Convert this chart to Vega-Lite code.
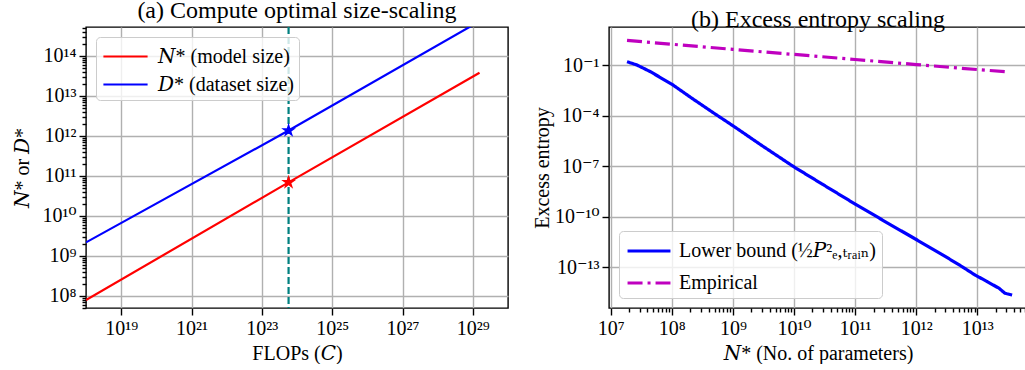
{
  "$schema": "https://vega.github.io/schema/vega-lite/v6.json",
  "background": "white",
  "padding": {"left": 11, "top": -3, "right": 0, "bottom": 0},
  "spacing": 22,
  "resolve": {
    "scale": {"color": "independent", "fill": "independent", "strokeDash": "independent"},
    "legend": {"color": "independent", "strokeDash": "independent", "fill": "independent"}
  },
  "datasets": {
    "sizes": [
      {"C": 1e18, "value": 7.8e7, "series": "𝑁* (model size)"},
      {"C": 5.76e23, "value": 6.85e10, "series": "𝑁* (model size)"},
      {"C": 1.55e29, "value": 3.8e13, "series": "𝑁* (model size)"},
      {"C": 1e18, "value": 2.16e9, "series": "𝐷* (dataset size)"},
      {"C": 5.76e23, "value": 1.36e12, "series": "𝐷* (dataset size)"},
      {"C": 1.55e29, "value": 7.4e14, "series": "𝐷* (dataset size)"}
    ],
    "stars": [
      {"C": 5.76e23, "value": 6.85e10, "series": "𝑁* (model size)"},
      {"C": 5.76e23, "value": 1.36e12, "series": "𝐷* (dataset size)"}
    ],
    "chinchilla": [{"C": 5.76e23}],
    "entropy": [
      {"N": 1.85e7, "value": 0.1637, "series": "Lower bound (½𝑃²ₑ,ₜᵣₐᵢₙ)"},
      {"N": 2.69e7, "value": 0.1042, "series": "Lower bound (½𝑃²ₑ,ₜᵣₐᵢₙ)"},
      {"N": 4.40e7, "value": 0.0429, "series": "Lower bound (½𝑃²ₑ,ₜᵣₐᵢₙ)"},
      {"N": 6.41e7, "value": 0.01936, "series": "Lower bound (½𝑃²ₑ,ₜᵣₐᵢₙ)"},
      {"N": 1.007e8, "value": 0.00743, "series": "Lower bound (½𝑃²ₑ,ₜᵣₐᵢₙ)"},
      {"N": 2.14e8, "value": 1.094e-3, "series": "Lower bound (½𝑃²ₑ,ₜᵣₐᵢₙ)"},
      {"N": 4.85e8, "value": 1.462e-4, "series": "Lower bound (½𝑃²ₑ,ₜᵣₐᵢₙ)"},
      {"N": 1.005e9, "value": 2.54e-5, "series": "Lower bound (½𝑃²ₑ,ₜᵣₐᵢₙ)"},
      {"N": 2.99e9, "value": 1.69e-6, "series": "Lower bound (½𝑃²ₑ,ₜᵣₐᵢₙ)"},
      {"N": 9.89e9, "value": 9.42e-8, "series": "Lower bound (½𝑃²ₑ,ₜᵣₐᵢₙ)"},
      {"N": 2.88e10, "value": 8.83e-9, "series": "Lower bound (½𝑃²ₑ,ₜᵣₐᵢₙ)"},
      {"N": 9.98e10, "value": 5.73e-10, "series": "Lower bound (½𝑃²ₑ,ₜᵣₐᵢₙ)"},
      {"N": 3.09e11, "value": 5.22e-11, "series": "Lower bound (½𝑃²ₑ,ₜᵣₐᵢₙ)"},
      {"N": 9.57e11, "value": 4.90e-12, "series": "Lower bound (½𝑃²ₑ,ₜᵣₐᵢₙ)"},
      {"N": 2.65e12, "value": 5.71e-13, "series": "Lower bound (½𝑃²ₑ,ₜᵣₐᵢₙ)"},
      {"N": 5.64e12, "value": 1.08e-13, "series": "Lower bound (½𝑃²ₑ,ₜᵣₐᵢₙ)"},
      {"N": 9.18e12, "value": 3.47e-14, "series": "Lower bound (½𝑃²ₑ,ₜᵣₐᵢₙ)"},
      {"N": 1.44e13, "value": 1.43e-14, "series": "Lower bound (½𝑃²ₑ,ₜᵣₐᵢₙ)"},
      {"N": 2.27e13, "value": 5.62e-15, "series": "Lower bound (½𝑃²ₑ,ₜᵣₐᵢₙ)"},
      {"N": 2.84e13, "value": 2.84e-15, "series": "Lower bound (½𝑃²ₑ,ₜᵣₐᵢₙ)"},
      {"N": 3.71e13, "value": 2.25e-15, "series": "Lower bound (½𝑃²ₑ,ₜᵣₐᵢₙ)"},
      {"N": 1.85e7, "value": 3.01, "series": "Empirical"},
      {"N": 1.0e8, "value": 1.79, "series": "Empirical"},
      {"N": 1.0e9, "value": 0.89, "series": "Empirical"},
      {"N": 1.0e10, "value": 0.443, "series": "Empirical"},
      {"N": 1.0e11, "value": 0.222, "series": "Empirical"},
      {"N": 1.0e12, "value": 0.111, "series": "Empirical"},
      {"N": 1.0e13, "value": 0.056, "series": "Empirical"},
      {"N": 3.0e13, "value": 0.041, "series": "Empirical"}
    ]
  },
  "config": {
    "font": "Liberation Serif, DejaVu Serif",
    "view": {"stroke": "black", "strokeWidth": 1.4},
    "axis": {
      "domain": false,
      "grid": true,
      "gridColor": "#b0b0b0",
      "gridWidth": 1.4,
      "tickColor": "black",
      "tickWidth": 1.4,
      "labelFont": "Liberation Serif, DejaVu Serif",
      "labelFontSize": 20,
      "labelColor": "black",
      "titleFont": "Liberation Serif, DejaVu Serif",
      "titleFontSize": 20,
      "titleFontWeight": "normal",
      "titleColor": "black",
      "labelOverlap": false,
      "labelFlush": false,
      "labelBound": false
    },
    "title": {"font": "Liberation Serif, DejaVu Serif", "fontSize": 24, "fontWeight": "normal", "anchor": "middle", "baseline": "alphabetic", "offset": -4.5, "color": "black"},
    "legend": {"labelFont": "Liberation Serif, DejaVu Serif", "labelFontSize": 20, "labelColor": "black", "labelLimit": 400}
  },
  "hconcat": [
    {
      "title": "(a) Compute optimal size-scaling",
      "width": 422,
      "height": 281,
      "layer": [
        {
          "data": {"name": "sizes"},
          "mark": {"type": "line", "strokeWidth": 2.2, "clip": true},
          "encoding": {
            "x": {
              "field": "C", "type": "quantitative",
              "scale": {"type": "log", "domain": [1e18, 1e30], "nice": false},
              "axis": {
                "title": "FLOPs (𝐶)",
                "values": [1e19, 1e21, 1e23, 1e25, 1e27, 1e29],
                "labelExpr": "['10¹⁹','10²¹','10²³','10²⁵','10²⁷','10²⁹'][(round(log(datum.value)/LN10) - 19)/2]",
                "tickSize": 7, "labelPadding": 3, "titlePadding": 5, "minExtent": 30, "maxExtent": 30
              }
            },
            "y": {
              "field": "value", "type": "quantitative",
              "scale": {"type": "log", "domain": [4.92e7, 5.32e14], "nice": false},
              "axis": {
                "title": "𝑁* or 𝐷*",
                "values": [5e7, 6e7, 7e7, 8e7, 9e7, 1e8, 2e8, 3e8, 4e8, 5e8, 6e8, 7e8, 8e8, 9e8, 1e9, 2e9, 3e9, 4e9, 5e9, 6e9, 7e9, 8e9, 9e9, 1e10, 2e10, 3e10, 4e10, 5e10, 6e10, 7e10, 8e10, 9e10, 1e11, 2e11, 3e11, 4e11, 5e11, 6e11, 7e11, 8e11, 9e11, 1e12, 2e12, 3e12, 4e12, 5e12, 6e12, 7e12, 8e12, 9e12, 1e13, 2e13, 3e13, 4e13, 5e13, 6e13, 7e13, 8e13, 9e13, 1e14, 2e14, 3e14, 4e14, 5e14],
                "labelExpr": "abs(log(datum.value)/LN10 - round(log(datum.value)/LN10)) < 0.001 ? ['10⁸','10⁹','10¹⁰','10¹¹','10¹²','10¹³','10¹⁴'][round(log(datum.value)/LN10) - 8] : ''",
                "tickSize": {"condition": {"test": "abs(log(datum.value)/LN10 - round(log(datum.value)/LN10)) < 0.001", "value": 7}, "value": 4},
                "gridOpacity": {"condition": {"test": "abs(log(datum.value)/LN10 - round(log(datum.value)/LN10)) < 0.001", "value": 1}, "value": 0},
                "labelPadding": 3, "titlePadding": 6, "minExtent": 48, "maxExtent": 48
              }
            },
            "color": {
              "field": "series", "type": "nominal",
              "scale": {"domain": ["𝑁* (model size)", "𝐷* (dataset size)"], "range": ["#ff0000", "#0000ff"]},
              "legend": {
                "title": null, "orient": "top-left", "offset": 10,
                "symbolType": "M-1.7,0H1.7", "symbolSize": 676, "symbolStrokeWidth": 2.2,
                "fillColor": "rgba(255,255,255,0.8)", "strokeColor": "#cccccc", "cornerRadius": 4,
                "padding": 5, "symbolOffset": 10, "labelOffset": 18, "rowPadding": 3
              }
            }
          }
        },
        {
          "data": {"name": "chinchilla"},
          "mark": {"type": "rule", "color": "#008080", "strokeWidth": 2.2, "strokeDash": [7, 3]},
          "encoding": {"x": {"field": "C", "type": "quantitative"}}
        },
        {
          "data": {"name": "stars"},
          "mark": {"type": "point", "shape": "M0,-1L0.225,-0.309L0.951,-0.309L0.363,0.118L0.588,0.809L0,0.382L-0.588,0.809L-0.363,0.118L-0.951,-0.309L-0.225,-0.309Z", "filled": true, "size": 240, "opacity": 1},
          "encoding": {
            "x": {"field": "C", "type": "quantitative"},
            "y": {"field": "value", "type": "quantitative"},
            "fill": {
              "field": "series", "type": "nominal",
              "scale": {"domain": ["𝑁* (model size)", "𝐷* (dataset size)"], "range": ["#ff0000", "#0000ff"]},
              "legend": null
            }
          }
        }
      ]
    },
    {
      "title": "(b) Excess entropy scaling",
      "width": 418,
      "height": 281,
      "data": {"name": "entropy"},
      "mark": {"type": "line", "strokeWidth": 3.2, "clip": true},
      "encoding": {
        "x": {
          "field": "N", "type": "quantitative",
          "scale": {"type": "log", "domain": [9.38e6, 6.5e13], "nice": false},
          "axis": {
            "title": "𝑁* (No. of parameters)",
            "values": [1e7, 2e7, 3e7, 4e7, 5e7, 6e7, 7e7, 8e7, 9e7, 1e8, 2e8, 3e8, 4e8, 5e8, 6e8, 7e8, 8e8, 9e8, 1e9, 2e9, 3e9, 4e9, 5e9, 6e9, 7e9, 8e9, 9e9, 1e10, 2e10, 3e10, 4e10, 5e10, 6e10, 7e10, 8e10, 9e10, 1e11, 2e11, 3e11, 4e11, 5e11, 6e11, 7e11, 8e11, 9e11, 1e12, 2e12, 3e12, 4e12, 5e12, 6e12, 7e12, 8e12, 9e12, 1e13, 2e13, 3e13, 4e13, 5e13, 6e13],
            "labelExpr": "abs(log(datum.value)/LN10 - round(log(datum.value)/LN10)) < 0.001 ? ['10⁷','10⁸','10⁹','10¹⁰','10¹¹','10¹²','10¹³'][round(log(datum.value)/LN10) - 7] : ''",
            "tickSize": {"condition": {"test": "abs(log(datum.value)/LN10 - round(log(datum.value)/LN10)) < 0.001", "value": 7}, "value": 4},
            "gridOpacity": {"condition": {"test": "abs(log(datum.value)/LN10 - round(log(datum.value)/LN10)) < 0.001", "value": 1}, "value": 0},
            "labelPadding": 3, "titlePadding": 5, "minExtent": 30, "maxExtent": 30
          }
        },
        "y": {
          "field": "value", "type": "quantitative",
          "scale": {"type": "log", "domain": [3.8e-16, 18.9], "nice": false},
          "axis": {
            "title": "Excess entropy",
            "values": [1e-1, 1e-4, 1e-7, 1e-10, 1e-13],
            "labelExpr": "['10⁻¹','10⁻⁴','10⁻⁷','10⁻¹⁰','10⁻¹³'][(-1 - round(log(datum.value)/LN10))/3]",
            "tickSize": 7, "labelPadding": 3, "titlePadding": 3, "minExtent": 54, "maxExtent": 54
          }
        },
        "color": {
          "field": "series", "type": "nominal",
          "scale": {"domain": ["Lower bound (½𝑃²ₑ,ₜᵣₐᵢₙ)", "Empirical"], "range": ["#0000ff", "#bf00bf"]},
          "legend": {
            "title": null, "orient": "bottom-left", "offset": 10,
            "symbolType": "M-1.65,0H1.65", "symbolSize": 676, "symbolStrokeWidth": 3.2,
            "fillColor": "rgba(255,255,255,0.8)", "strokeColor": "#cccccc", "cornerRadius": 4,
            "padding": 5, "symbolOffset": 10, "labelOffset": 15, "rowPadding": 7
          }
        },
        "strokeDash": {
          "field": "series", "type": "nominal",
          "scale": {"domain": ["Lower bound (½𝑃²ₑ,ₜᵣₐᵢₙ)", "Empirical"], "range": [[1, 0], [15, 5, 3, 5]]},
          "legend": {
            "title": null, "orient": "bottom-left", "offset": 10,
            "symbolType": "M-1.65,0H1.65", "symbolSize": 676, "symbolStrokeWidth": 3.2,
            "fillColor": "rgba(255,255,255,0.8)", "strokeColor": "#cccccc", "cornerRadius": 4,
            "padding": 5, "symbolOffset": 10, "labelOffset": 15, "rowPadding": 7
          }
        }
      }
    }
  ]
}
